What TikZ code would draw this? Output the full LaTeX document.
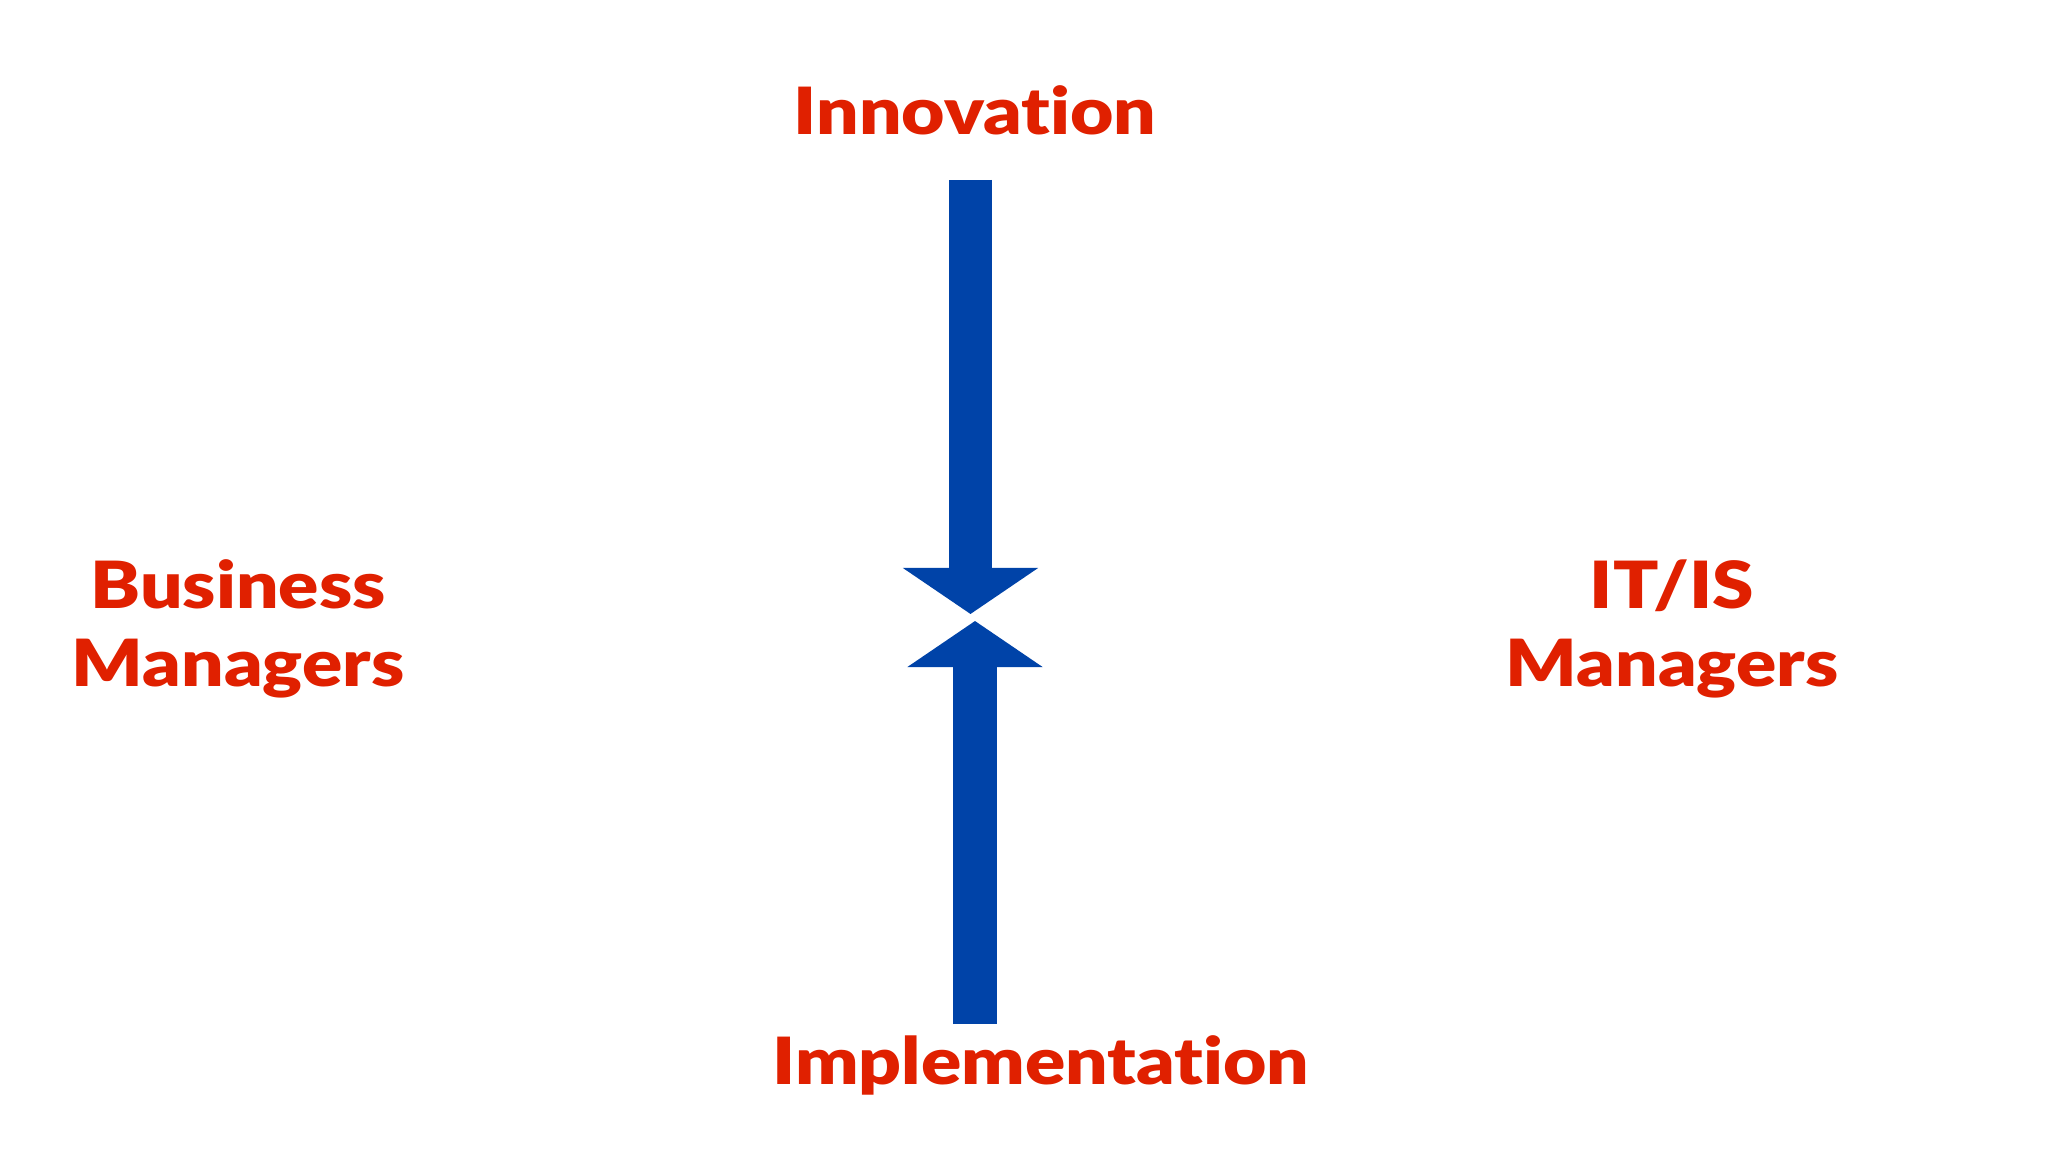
\documentclass[tikz,border=0pt]{standalone}
\usepackage{fontspec}
\setmainfont{Lato}[BoldFont={Lato Black}, Ligatures={NoCommon}, BoldFeatures={FakeStretch=1.15}]
\usetikzlibrary{arrows.meta}
\definecolor{lblred}{HTML}{E02000}
\definecolor{arrblue}{HTML}{0043A8}
\tikzset{
  lbl/.style={text=lblred, font=\fontsize{18.5}{22}\selectfont\bfseries, anchor=base, inner sep=0pt},
  bigarrow/.style={draw=arrblue, line width=0.43cm, -{Triangle[width=1.33cm,length=0.46cm,fill=arrblue]}}
}
\begin{document}
\begin{tikzpicture}[x=0.01cm,y=-0.01cm]
\fill[white] (0,0) rectangle (2048,1152);
\useasboundingbox (0,0) rectangle (2048,1152);
\node[lbl] (innov) at (975,135) {Innovation};
\node[lbl] (impl) at (1041,1084) {Implementation};
\node[lbl] (bus1) at (238,609) {Business};
\node[lbl] (bus2) at (238,686) {Managers};
\node[lbl] (it1) at (1672,609) {IT/IS};
\node[lbl] (it2) at (1672,686) {Managers};
\coordinate (a1s) at (970.5,180);
\coordinate (a1e) at (970.5,614);
\coordinate (a2s) at (975,1024);
\coordinate (a2e) at (975,621);
\draw[bigarrow] (a1s) -- (a1e);
\draw[bigarrow] (a2s) -- (a2e);
\end{tikzpicture}
\end{document}
